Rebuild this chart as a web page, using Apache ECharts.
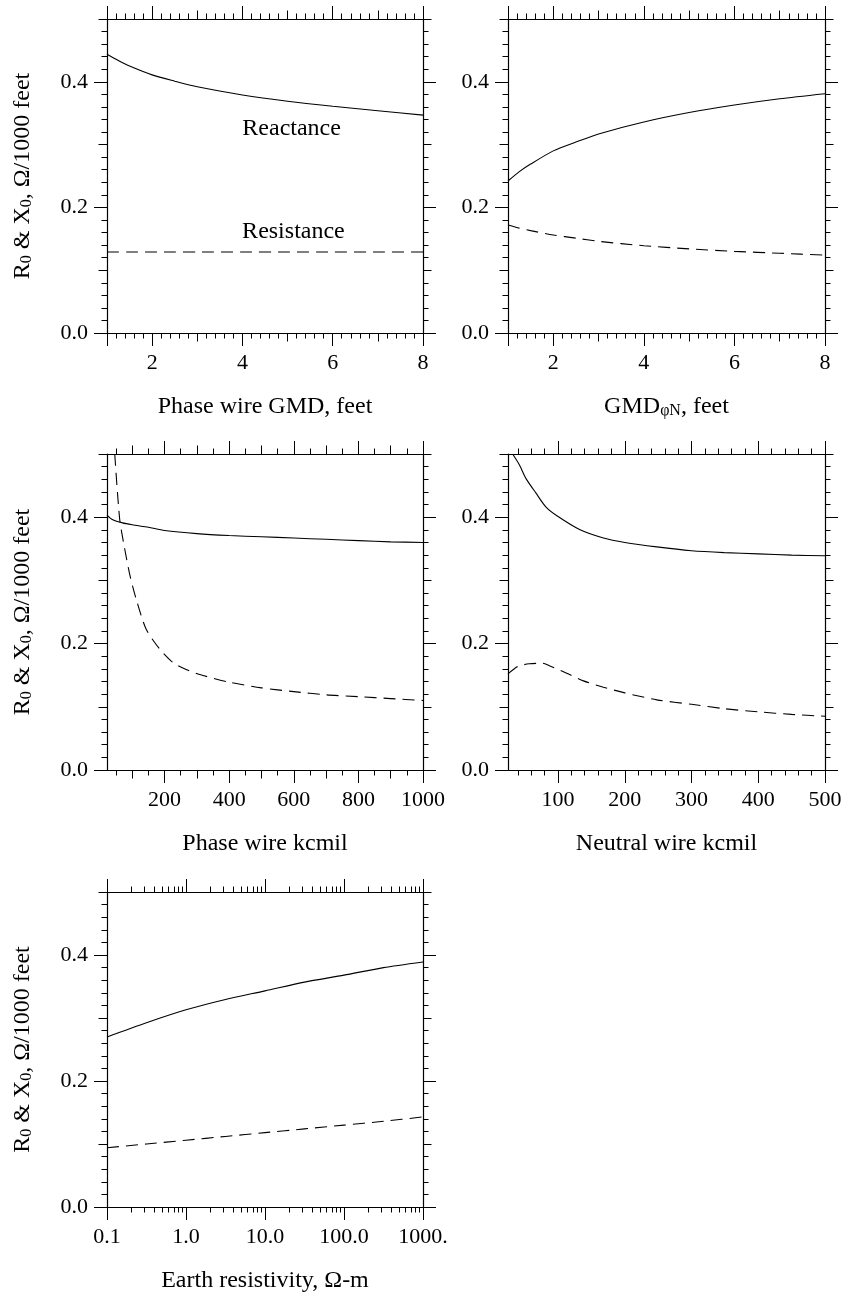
<!DOCTYPE html>
<html>
<head>
<meta charset="utf-8">
<title>Zero-sequence impedance</title>
<script src="https://cdn.jsdelivr.net/npm/echarts@6/dist/echarts.min.js"></script>
<style>
html, body { margin: 0; padding: 0; background: #fff; }
#main { width: 846px; height: 1294px; }
</style>
</head>
<body>
<div id="main"></div>
<script>
// ---- data (ohm / 1000 ft) ----

// phase wire GMD, feet
var phaseGmd = [1, 1.25, 1.5, 2, 2.5, 3, 4, 5, 6, 7, 8];
var phaseGmdX0 = [0.444, 0.434, 0.425, 0.411, 0.401, 0.392, 0.379, 0.369, 0.361, 0.354, 0.347];
var phaseGmdR0 = [0.129, 0.129, 0.129, 0.129, 0.129, 0.129, 0.129, 0.129, 0.129, 0.129, 0.129];

// GMD phase-neutral, feet
var neutralGmd = [1, 1.25, 1.5, 2, 2.5, 3, 4, 5, 6, 7, 8];
var neutralGmdX0 = [0.242, 0.257, 0.269, 0.290, 0.304, 0.317, 0.336, 0.351, 0.363, 0.373, 0.381];
var neutralGmdR0 = [0.172, 0.167, 0.163, 0.156, 0.151, 0.146, 0.139, 0.134, 0.130, 0.127, 0.124];

// phase wire size, kcmil
var phaseKcmilX = [22, 40, 70, 100, 150, 200, 300, 400, 500, 600, 700, 800, 900, 1000];
var phaseKcmilX0 = [0.403, 0.396, 0.391, 0.388, 0.384, 0.379, 0.374, 0.371, 0.369, 0.367, 0.365, 0.363, 0.361, 0.360];
var phaseKcmilR = [46, 61, 76, 93, 112, 143, 184, 226, 267, 309, 400, 500, 600, 700, 800, 900, 1000];
var phaseKcmilR0 = [0.500, 0.398, 0.352, 0.308, 0.271, 0.223, 0.192, 0.170, 0.159, 0.151, 0.139, 0.130, 0.124, 0.119, 0.116, 0.113, 0.110];

// neutral wire size, kcmil
var neutralKcmilX = [32, 42, 52, 67, 82, 100, 133, 168, 200, 248, 300, 349, 400, 450, 500];
var neutralKcmilX0 = [0.500, 0.483, 0.461, 0.438, 0.416, 0.401, 0.380, 0.367, 0.360, 0.353, 0.347, 0.344, 0.342, 0.340, 0.339];
var neutralKcmilR = [25, 40, 57, 77, 87, 113, 138, 168, 200, 248, 300, 349, 400, 450, 500];
var neutralKcmilR0 = [0.152, 0.164, 0.168, 0.169, 0.165, 0.153, 0.141, 0.131, 0.122, 0.111, 0.104, 0.097, 0.092, 0.088, 0.085];

// earth resistivity, ohm-m
var earthRho = [0.1, 0.316, 1, 3.16, 10, 31.6, 100, 316, 1000];
var earthRhoX0 = [0.270, 0.2925, 0.313, 0.3295, 0.343, 0.357, 0.368, 0.380, 0.389];
var earthRhoR0 = [0.094, 0.100, 0.106, 0.112, 0.118, 0.124, 0.130, 0.136, 0.143];

// tick labels
var gmdTicks = [2, 4, 6, 8];
var gmdTickText = ['2', '4', '6', '8'];
var phaseKcmilTicks = [200, 400, 600, 800, 1000];
var phaseKcmilTickText = ['200', '400', '600', '800', '1000'];
var neutralKcmilTicks = [100, 200, 300, 400, 500];
var neutralKcmilTickText = ['100', '200', '300', '400', '500'];
var rhoTicks = [0.1, 1, 10, 100, 1000];
var rhoTickText = ['0.1', '1.0', '10.0', '100.0', '1000.'];
var ohmTicks = [0, 0.2, 0.4];
var ohmTickText = ['0.0', '0.2', '0.4'];

var FONT = 'Liberation Serif';
var FS = 22;      // tick labels
var FS_NAME = 24; // axis titles, curve labels

// i*mul/div for i in n0..n1, skipping multiples of skip
function tickList(n0, n1, mul, div, skip) {
    var out = [];
    for (var i = n0; i <= n1; i++) {
        if (skip && i % skip === 0) continue;
        out.push(i * mul / div);
    }
    return out;
}

function logMinor() {
    var out = [];
    for (var d = -1; d <= 2; d++) {
        for (var m = 2; m <= 9; m++) {
            out.push(d < 0 ? m / 10 : m * Math.pow(10, d));
        }
    }
    return out;
}

var grids = [], xAxes = [], yAxes = [], series = [];

function labelFormatter(vals, texts) {
    return function (v) {
        for (var i = 0; i < vals.length; i++) {
            if (Math.abs(vals[i] - v) <= 1e-6 * Math.max(1, Math.abs(v))) return texts[i];
        }
        return '';
    };
}

function tickAxis(list, g, pos, sc, ticks, len, main) {
    var ax = {
        type: sc.type, gridIndex: g, position: pos, min: sc.min, max: sc.max,
        axisLine: { show: !!main, onZero: false, lineStyle: { color: '#000', width: 1.2 } },
        axisTick: { show: ticks.length > 0, customValues: ticks, length: len, lineStyle: { color: '#000', width: 1 } },
        axisLabel: { show: false },
        splitLine: { show: false },
        minorTick: { show: false }
    };
    list.push(ax);
    return ax;
}

var subRich = {
    sub: { fontFamily: FONT, fontSize: 16, lineHeight: 12, verticalAlign: 'bottom', color: '#000' }
};

function addAxes(list, g, posA, posB, sc, isY) {
    var main = tickAxis(list, g, posA, sc, sc.major, 13, true);
    var mainIndex = list.length - 1;
    main.axisLabel = {
        show: true, customValues: sc.labels, formatter: labelFormatter(sc.labels, sc.labelText),
        margin: isY ? 19 : 19, fontFamily: FONT, fontSize: FS, color: '#000'
    };
    if (sc.name) {
        main.name = sc.name;
        main.nameLocation = 'middle';
        main.nameGap = isY ? 72 : 62;
        main.nameRotate = isY ? 90 : 0;
        main.nameMoveOverlap = false;
        main.nameTextStyle = { fontFamily: FONT, fontSize: FS_NAME, color: '#000', rich: subRich };
    }
    tickAxis(list, g, posA, sc, sc.medium, 8.5, false);
    tickAxis(list, g, posA, sc, sc.minor, 5.5, false);
    tickAxis(list, g, posB, sc, sc.major, 13, true);
    tickAxis(list, g, posB, sc, sc.medium, 8.5, false);
    tickAxis(list, g, posB, sc, sc.minor, 5.5, false);
    return mainIndex;
}

function addPanel(box, xs, ys) {
    var g = grids.length;
    grids.push({ left: box[0], top: box[1], width: box[2], height: box[3], show: false, containLabel: false, outerBoundsMode: 'none' });
    return {
        x: addAxes(xAxes, g, 'bottom', 'top', xs, false),
        y: addAxes(yAxes, g, 'left', 'right', ys, true)
    };
}

function addCurve(p, xArr, yArr, dashed, marks) {
    var s = {
        type: 'line', xAxisIndex: p.x, yAxisIndex: p.y,
        data: xArr.map(function (x, i) { return [x, yArr[i]]; }),
        showSymbol: false, symbol: 'none', smooth: 0.25,
        lineStyle: { color: '#000', width: 1.1, type: dashed ? [12, 7] : 'solid' },
        silent: true, clip: true
    };
    if (marks) {
        s.markPoint = {
            symbol: 'circle', symbolSize: 0, silent: true,
            label: { show: true, position: 'inside', fontFamily: FONT, fontSize: FS_NAME, color: '#000' },
            data: marks
        };
    }
    series.push(s);
}

function ohmScale(withName) {
    return {
        type: 'value', min: 0, max: 0.5,
        major: ohmTicks, medium: [0.1, 0.3, 0.5], minor: tickList(0, 25, 1, 50, 5),
        labels: ohmTicks, labelText: ohmTickText,
        name: withName ? 'R{sub|0} & X{sub|0}, Ω/1000 feet' : null
    };
}

function gmdScale(name) {
    return {
        type: 'value', min: 1, max: 8,
        major: [1, 2, 4, 6, 8], medium: [3, 5, 7], minor: tickList(5, 40, 1, 5, 5),
        labels: gmdTicks, labelText: gmdTickText, name: name
    };
}

var p1 = addPanel([107, 19, 316, 314], gmdScale('Phase wire GMD, feet'), ohmScale(true));
var p2 = addPanel([508, 19, 317, 314], gmdScale('GMD{sub|φN}, feet'), ohmScale(false));
var p3 = addPanel([107, 454, 316, 316], {
    type: 'value', min: 22, max: 1000,
    major: [200, 400, 600, 800, 1000], medium: [100, 300, 500, 700, 900], minor: tickList(1, 19, 50, 1, 2),
    labels: phaseKcmilTicks, labelText: phaseKcmilTickText, name: 'Phase wire kcmil'
}, ohmScale(true));
var p4 = addPanel([508, 454, 317, 316], {
    type: 'value', min: 25, max: 500,
    major: [100, 200, 300, 400, 500], medium: [], minor: tickList(2, 24, 20, 1, 5),
    labels: neutralKcmilTicks, labelText: neutralKcmilTickText, name: 'Neutral wire kcmil'
}, ohmScale(false));
var p5 = addPanel([107, 892, 316, 315], {
    type: 'log', min: 0.1, max: 1000,
    major: rhoTicks, medium: [], minor: logMinor(),
    labels: rhoTicks, labelText: rhoTickText, name: 'Earth resistivity, Ω-m'
}, ohmScale(true));

addCurve(p1, phaseGmd, phaseGmdX0, false, [{ coord: [5.09, 0.326], label: { formatter: 'Reactance' } }]);
addCurve(p1, phaseGmd, phaseGmdR0, true, [{ coord: [5.13, 0.161], label: { formatter: 'Resistance' } }]);
addCurve(p2, neutralGmd, neutralGmdX0, false);
addCurve(p2, neutralGmd, neutralGmdR0, true);
addCurve(p3, phaseKcmilX, phaseKcmilX0, false);
addCurve(p3, phaseKcmilR, phaseKcmilR0, true);
addCurve(p4, neutralKcmilX, neutralKcmilX0, false);
addCurve(p4, neutralKcmilR, neutralKcmilR0, true);
addCurve(p5, earthRho, earthRhoX0, false);
addCurve(p5, earthRho, earthRhoR0, true);

var myChart = echarts.init(document.getElementById('main'), null, { renderer: 'canvas' });
myChart.setOption({
    backgroundColor: '#fff',
    animation: false,
    grid: grids,
    xAxis: xAxes,
    yAxis: yAxes,
    series: series
});
</script>
</body>
</html>
